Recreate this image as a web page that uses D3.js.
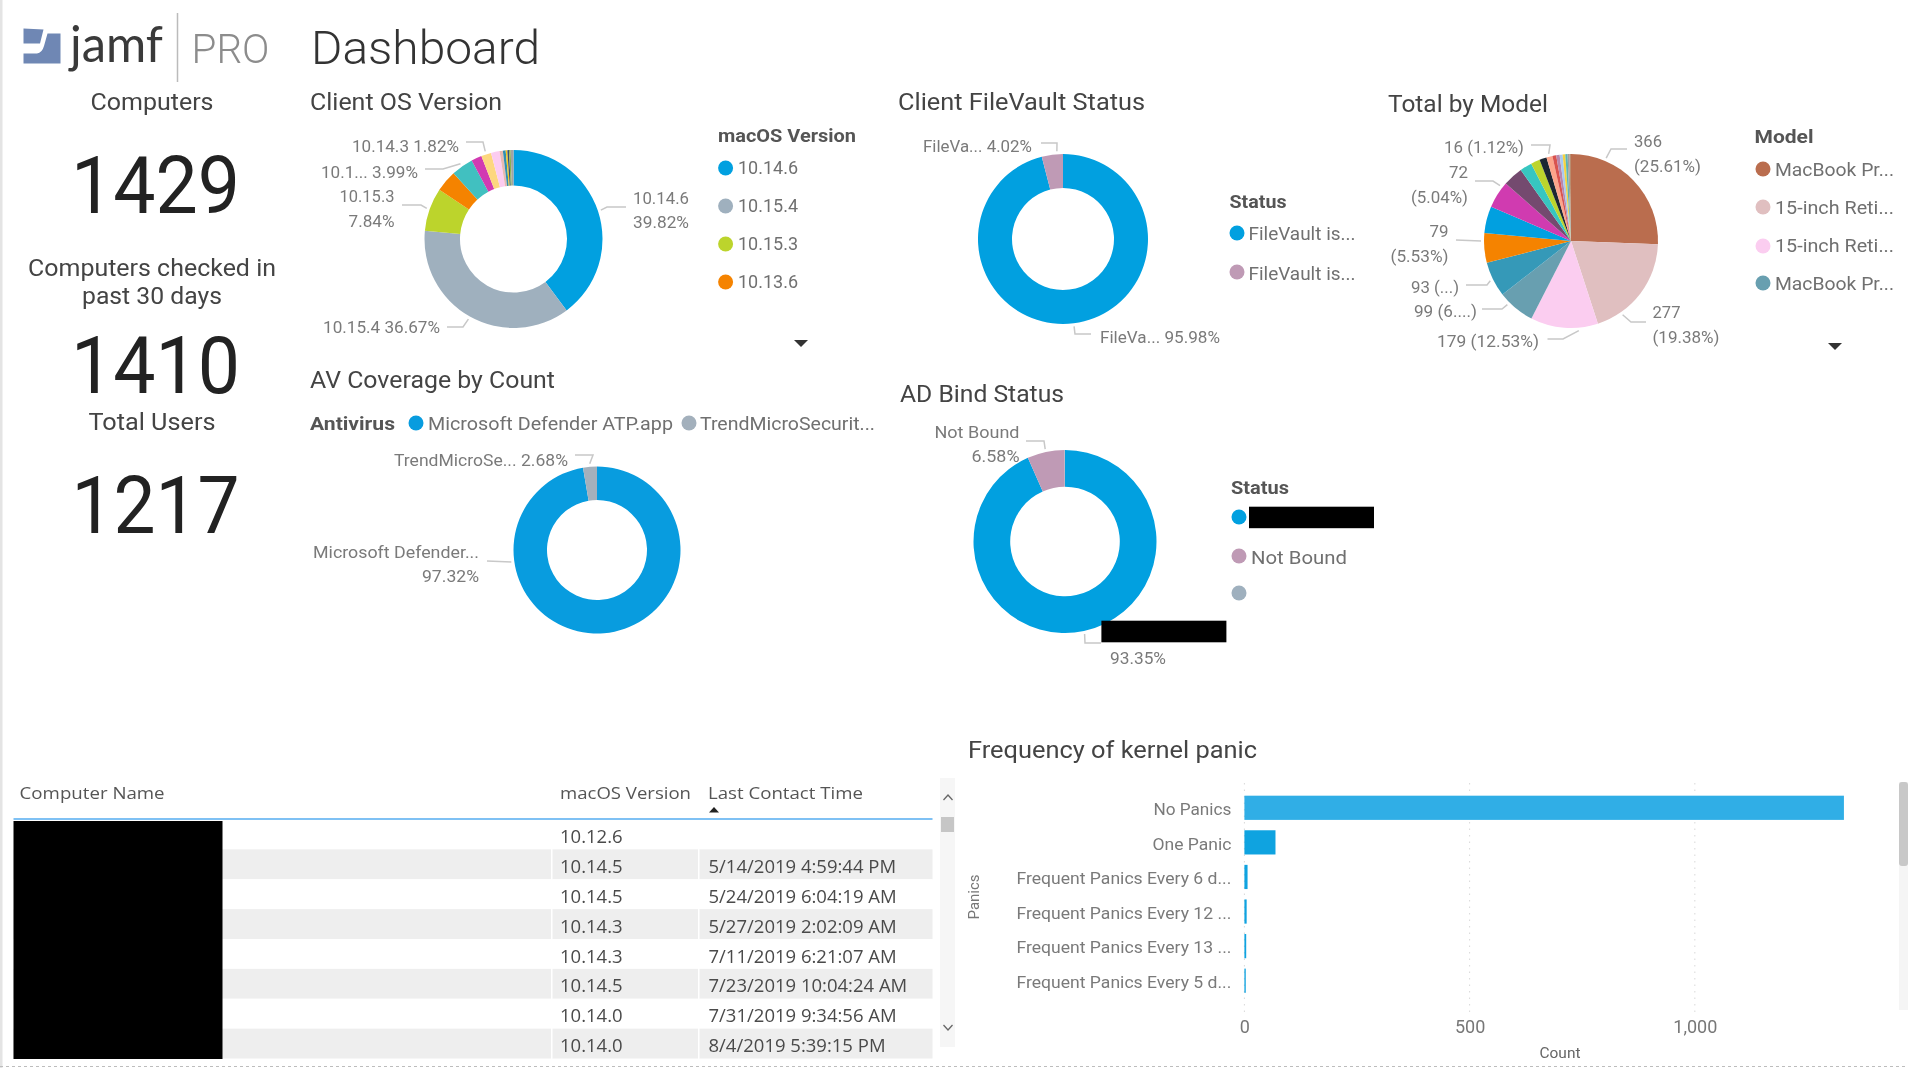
<!DOCTYPE html>
<html><head><meta charset="utf-8">
<script src="https://cdn.jsdelivr.net/npm/d3@7/dist/d3.min.js"></script>
<style>html,body{margin:0;padding:0;background:#fff;overflow:hidden}svg{display:block;filter:blur(0.45px)}</style>
</head><body><svg id="c" width="1908" height="1068"></svg>
<script>
// ---------- data ----------
const kpiValues = ["1429", "1410", "1217"];
const osVersions = ["10.14.6","10.15.4","10.15.3","10.13.6","10.14.4","10.14.5","10.14.3","10.13.5","10.12.6","10.14.0","10.13.4","10.13.3","10.14.2","10.14.1"];
const osShares = [39.82,36.67,7.84,3.9,3.99,1.9,1.82,1.55,0.6,0.5,0.3,0.3,0.3,0.51];
const osColors = ["#01a0e0","#9fb0be","#bcd42c","#f58300","#41c0c0","#d13ab2","#fdd77f","#fcccf0","#e8b9b0","#2f8fb0","#f5c518","#35507a","#8cb050","#a3a3a3"];
const fvStatus = ["FileVault is...","FileVault is..."];
const fvShares = [95.98,4.02];
const fvColors = ["#01a0e0","#bf9ab5"];
const modelNames = ["MacBook Pr...","15-inch Reti...","15-inch Reti...","MacBook Pr..."];
const modelCounts = [366,277,179,99,93,79,71,72,53,32,24,19,16,10,9,8,7,6,5,4];
const modelColors = ["#ba6d4e","#e0bfc0","#fbcdf0","#689fb0","#3599b8","#f58300","#01a0e0","#d03bb0","#744a6f","#37c6c0","#bcd42c","#1c2733","#fda58b","#d9534f","#b887ad","#a9c9f0","#f5d33f","#5bb5b5","#a0a0a0","#b98c6e"];
const avNames = ["Microsoft Defender ATP.app","TrendMicroSecurit..."];
const avShares = [97.32,2.68];
const avColors = ["#089cdf","#a3b0bc"];
const adNames = ["","Not Bound",""];
const adShares = [93.35,6.58,0.07];
const adColors = ["#01a0e0","#bf9ab5","#9fb0be"];
const panicNames = ["No Panics","One Panic","Frequent Panics Every 6 d...","Frequent Panics Every 12 ...","Frequent Panics Every 13 ...","Frequent Panics Every 5 d..."];
const panicCounts = [1331,69,7,5,4,3];
const panicTicks = [0,500,1000];
const tableHeaders = ["Computer Name","macOS Version","Last Contact Time"];
const tableVersions = ["10.12.6","10.14.5","10.14.5","10.14.3","10.14.3","10.14.5","10.14.0","10.14.0"];
const tableTimes = ["","5/14/2019 4:59:44 PM","5/24/2019 6:04:19 AM","5/27/2019 2:02:09 AM","7/11/2019 6:21:07 AM","7/23/2019 10:04:24 AM","7/31/2019 9:34:56 AM","8/4/2019 5:39:15 PM"];

// ---------- helpers ----------
const svg = d3.select("#c");
const DIN = "Roboto, 'Noto Sans', sans-serif";
const UI = "'Open Sans', 'Noto Sans', sans-serif";
function txt(x, y, s, o = {}) {
  const t = svg.append("text").attr("x", x).attr("y", y).text(s)
    .attr("font-family", o.family || DIN).attr("font-size", o.size || 17)
    .attr("fill", o.fill || "#777").attr("text-anchor", o.anchor || "start")
    .attr("font-weight", o.weight || 400);
  if (o.width) t.attr("textLength", o.width).attr("lengthAdjust", "spacingAndGlyphs");
  return t;
}
function drawPie(p) {
  const g = svg.append("g").attr("transform", `translate(${p.cx},${p.cy})`);
  const arcs = d3.pie().sort(null).value(d => d)(p.values);
  const arc = d3.arc().innerRadius(p.inner).outerRadius(p.r);
  g.selectAll("path").data(arcs).join("path").attr("d", arc)
    .attr("fill", (d, i) => p.colors[i]).attr("stroke", "none");
  const ringEdge = d3.arc().innerRadius(p.r + 3).outerRadius(p.r + 3);
  (p.labels || []).forEach(l => {
    const c = l.at === undefined ? ringEdge.centroid(arcs[l.slice])
      : [(p.r + 3) * Math.sin(l.at * Math.PI / 180), -(p.r + 3) * Math.cos(l.at * Math.PI / 180)];
    const pts = [[p.cx + c[0], p.cy + c[1]], ...l.path];
    svg.append("path").attr("d", d3.line()(pts)).attr("fill", "none")
      .attr("stroke", "#c8c8c8").attr("stroke-width", 1.5);
    l.lines.forEach(t => txt(t[0], t[1], t[2], {size: 17, anchor: t[4] || "start", width: t[3], fill: "#7a7a7a"}));
  });
}
function legendDots(x, ys, colors, r = 7.5) {
  svg.append("g").selectAll("circle").data(ys).join("circle")
    .attr("cx", x).attr("cy", d => d).attr("r", r).attr("fill", (d, i) => colors[i]);
}
function dropArrow(x, y) {
  svg.append("path").attr("d", `M${x-7},${y}h14l-7,7z`).attr("fill", "#333");
}

// ---------- frame ----------
svg.append("rect").attr("x", 0).attr("y", 0).attr("width", 2.5).attr("height", 1068).attr("fill", "#e4e4e4");
svg.append("line").attr("x1", 0).attr("x2", 1908).attr("y1", 1066.5).attr("y2", 1066.5)
  .attr("stroke", "#bdbdbd").attr("stroke-dasharray", "3,3");

// ---------- logo + heading ----------
svg.append("path").attr("d", "M47.5,33.5H60.5V63.5H23.5V53.5H37Q42,53 44,46z").attr("fill", "#6f87b4");
svg.append("path").attr("d", "M23.5,28.5L43.5,29.5L40,43.5H23.5z").attr("fill", "#6f87b4");
txt(70, 62, "jamf", {size: 50, fill: "#3a3a3a", width: 93, family: "Lato, sans-serif"});
svg.append("line").attr("x1", 177.5).attr("x2", 177.5).attr("y1", 13).attr("y2", 82).attr("stroke", "#bbb").attr("stroke-width", 1.5);
txt(191.5, 63, "PRO", {size: 40, fill: "#8c8c8c", width: 78, weight: 300});
txt(311, 64, "Dashboard", {size: 47, fill: "#333", width: 229, weight: 300});

// ---------- KPIs ----------
txt(152, 110, "Computers", {size: 23, fill: "#444", anchor: "middle", width: 123});
txt(155.5, 213, kpiValues[0], {size: 80, fill: "#222", anchor: "middle", width: 169});
txt(152, 276, "Computers checked in", {size: 23, fill: "#444", anchor: "middle", width: 248});
txt(152, 304, "past 30 days", {size: 23, fill: "#444", anchor: "middle", width: 140});
txt(155.5, 393, kpiValues[1], {size: 80, fill: "#222", anchor: "middle", width: 169});
txt(152, 430, "Total Users", {size: 23, fill: "#444", anchor: "middle", width: 127});
txt(155.5, 533, kpiValues[2], {size: 80, fill: "#222", anchor: "middle", width: 168});

// ---------- titles ----------
txt(310, 110, "Client OS Version", {size: 23, fill: "#444", width: 192});
txt(898, 110, "Client FileVault Status", {size: 23, fill: "#444", width: 247});
txt(1388, 112, "Total by Model", {size: 23, fill: "#444", width: 160});
txt(310, 388, "AV Coverage by Count", {size: 23, fill: "#444", width: 245});
txt(900, 402, "AD Bind Status", {size: 23, fill: "#444", width: 164});
txt(968, 758, "Frequency of kernel panic", {size: 23, fill: "#444", width: 289});

// ---------- OS donut ----------
drawPie({cx: 513.5, cy: 239, r: 89, inner: 53.5, values: osShares, colors: osColors, labels: [
  {slice: 0, path: [[607,207],[626,207]], lines: [[689,204,"10.14.6",56,"end"],[689,228,"39.82%",56,"end"]]},
  {slice: 1, path: [[463,327],[447,327]], lines: [[323,333,"10.15.4 36.67%",117]]},
  {slice: 2, path: [[421,205],[402,205]], lines: [[394.5,202,"10.15.3",55,"end"],[394.5,227,"7.84%",46,"end"]]},
  {slice: 4, path: [[443,169],[425,169]], lines: [[321,178,"10.1... 3.99%",97]]},
  {slice: 6, path: [[483,142],[466,142]], lines: [[352,152,"10.14.3 1.82%",107]]}
]});
txt(718, 142, "macOS Version", {size: 18, fill: "#555", weight: 700, width: 138});
legendDots(725.6, [168,206,244,282], osColors);
osVersions.slice(0, 4).forEach((v, i) => txt(738, [174,212,250,288][i], v, {size: 18, fill: "#707070", width: 60}));
dropArrow(801, 340);

// ---------- FileVault donut ----------
drawPie({cx: 1063, cy: 239, r: 85, inner: 51, values: fvShares, colors: fvColors, labels: [
  {slice: 1, at: 356, path: [[1057,143],[1041,143]], lines: [[923,152,"FileVa... 4.02%",109]]},
  {slice: 0, path: [[1075,334],[1091,334]], lines: [[1100,343,"FileVa... 95.98%",120]]}
]});
txt(1229.5, 208, "Status", {size: 18, fill: "#555", weight: 700, width: 57});
legendDots(1237, [233,272], fvColors);
fvStatus.forEach((v, i) => txt(1248.5, [240,280][i], v, {size: 18, fill: "#707070", width: 107}));

// ---------- Model pie ----------
drawPie({cx: 1571, cy: 241, r: 87, inner: 0, values: modelCounts, colors: modelColors, labels: [
  {slice: 0, at: 23, path: [[1611,149],[1627,149]], lines: [[1634,147,"366",28],[1634,172,"(25.61%)",67]]},
  {slice: 1, at: 145, path: [[1631,322],[1646,322]], lines: [[1652.5,318,"277",28],[1652.5,343,"(19.38%)",67]]},
  {slice: 2, at: 175, path: [[1563,339],[1547.5,339]], lines: [[1437,347,"179 (12.53%)",102]]},
  {slice: 3, at: 225, path: [[1502,309],[1482,309]], lines: [[1414,317,"99 (6....)",63]]},
  {slice: 4, path: [[1487,285],[1466,285]], lines: [[1411,293,"93 (...)",48]]},
  {slice: 5, at: 270, path: [[1456,240]], lines: [[1448.5,237,"79",19,"end"],[1448.5,262,"(5.53%)",58,"end"]]},
  {slice: 7, at: 308, path: [[1493,181],[1475,181]], lines: [[1468,178,"72",19,"end"],[1468,203,"(5.04%)",57,"end"]]},
  {slice: 12, path: [[1550,145],[1531,145]], lines: [[1444,153,"16 (1.12%)",80]]}
]});
txt(1754.5, 143, "Model", {size: 18, fill: "#555", weight: 700, width: 59});
legendDots(1763, [169,207,246,283], modelColors);
modelNames.forEach((v, i) => txt(1775, [176,214,252,290][i], v, {size: 18, fill: "#707070", width: 119}));
dropArrow(1835, 343);

// ---------- AV donut ----------
txt(310, 430, "Antivirus", {size: 18, fill: "#555", weight: 700, width: 85});
legendDots(416, [423], [avColors[0]]); legendDots(689, [423], [avColors[1]]);
txt(428, 430, avNames[0], {size: 18, fill: "#707070", width: 245});
txt(700, 430, avNames[1], {size: 18, fill: "#707070", width: 175});
drawPie({cx: 597, cy: 550, r: 83.5, inner: 50, values: avShares, colors: avColors, labels: [
  {slice: 1, path: [[593,455],[575,455]], lines: [[394,466,"TrendMicroSe... 2.68%",174]]},
  {slice: 0, at: 262, path: [[487,561]], lines: [[479,558,"Microsoft Defender...",166,"end"],[479,582,"97.32%",57,"end"]]}
]});

// ---------- AD donut ----------
drawPie({cx: 1065, cy: 541.5, r: 91.5, inner: 54.8, values: adShares, colors: adColors, labels: [
  {slice: 1, path: [[1044,441],[1026,441]], lines: [[1019.5,438,"Not Bound",85,"end"],[1019.5,462,"6.58%",48,"end"]]},
  {slice: 0, path: [[1085,643],[1101,643]], lines: [[1110,664,"93.35%",56]]}
]});
svg.append("rect").attr("x", 1101.4).attr("y", 620.7).attr("width", 125).attr("height", 21.6).attr("fill", "#000");
txt(1231, 494, "Status", {size: 18, fill: "#555", weight: 700, width: 58});
legendDots(1239, [517,556,593], adColors);
svg.append("rect").attr("x", 1249).attr("y", 506.7).attr("width", 125).attr("height", 21.5).attr("fill", "#000");
txt(1251, 564, adNames[1], {size: 18, fill: "#707070", width: 96});

// ---------- table ----------
const rowY = d3.scaleBand().domain(d3.range(tableVersions.length)).range([819.5, 1058.5]);
const table = svg.append("g");
table.selectAll("rect.row").data(tableVersions).join("rect").attr("class", "row")
  .attr("x", 13.5).attr("width", 919).attr("y", (d, i) => rowY(i)).attr("height", rowY.bandwidth())
  .attr("fill", (d, i) => i % 2 ? "#eeeeee" : "#ffffff");
[551, 698].forEach(x => table.append("rect").attr("x", x).attr("y", 819).attr("width", 1.5).attr("height", 240).attr("fill", "#fff"));
table.append("rect").attr("x", 13.5).attr("y", 818).attr("width", 919).attr("height", 2).attr("fill", "#7fc1f4");
table.append("rect").attr("x", 13.5).attr("y", 821).attr("width", 209).attr("height", 238).attr("fill", "#000");
[[19.6,145],[560,131],[708,155]].forEach((h, i) => txt(h[0], 799, tableHeaders[i], {family: UI, size: 17, fill: "#555", width: h[1]}));
svg.append("path").attr("d", "M714,807l5,5.5h-10z").attr("fill", "#222");
tableVersions.forEach((v, i) => txt(560, rowY(i) + 23.5, v, {family: UI, size: 18.5, fill: "#4a4a4a"}));
tableTimes.forEach((v, i) => { if (v) txt(708.5, rowY(i) + 23.5, v, {family: UI, size: 18.5, fill: "#4a4a4a"}); });
// scrollbar
svg.append("rect").attr("x", 940).attr("y", 778).attr("width", 15).attr("height", 269).attr("fill", "#f6f6f6");
svg.append("rect").attr("x", 941).attr("y", 817).attr("width", 13).attr("height", 15).attr("fill", "#c6c6c6");
svg.append("path").attr("d", "M943.5,800l4.5,-5l4.5,5").attr("fill", "none").attr("stroke", "#666").attr("stroke-width", 1.3);
svg.append("path").attr("d", "M943.5,1025l4.5,5l4.5,-5").attr("fill", "none").attr("stroke", "#666").attr("stroke-width", 1.3);

// ---------- bar chart ----------
const barX = d3.scaleLinear().domain([0, 1400]).range([1244.4, 1875]);
const barY = d3.scaleBand().domain(panicNames).range([790.5, 998]).paddingInner(0.3).paddingOuter(0.15);
const grid = svg.append("g");
grid.selectAll("line").data(panicTicks).join("line")
  .attr("x1", d => barX(d)).attr("x2", d => barX(d)).attr("y1", 783).attr("y2", 1013)
  .attr("stroke", "#d8d8d8").attr("stroke-dasharray", "1.5,5");
svg.append("g").selectAll("rect").data(panicNames).join("rect")
  .attr("x", barX(0)).attr("y", d => barY(d)).attr("height", barY.bandwidth())
  .attr("width", (d, i) => barX(panicCounts[i]) - barX(0))
  .attr("fill", (d, i) => i === 0 ? "#30aee6" : "#0fa3e0");
const yAxis = svg.append("g").attr("transform", "translate(1244.4,0)")
  .call(d3.axisLeft(barY).tickSize(0).tickPadding(13));
yAxis.select(".domain").remove();
yAxis.selectAll("text").attr("font-family", DIN).attr("font-size", 17).attr("fill", "#7a7a7a").attr("dy", "0.42em")
  .attr("textLength", d => ({"No Panics":78,"One Panic":79})[d] || 215).attr("lengthAdjust", "spacingAndGlyphs");
const xAxis = svg.append("g").attr("transform", "translate(0,1012)")
  .call(d3.axisBottom(barX).tickValues(panicTicks).tickFormat(d3.format(",")).tickSize(0).tickPadding(8));
xAxis.select(".domain").remove();
xAxis.selectAll("text").attr("font-family", DIN).attr("font-size", 18).attr("fill", "#777").attr("dy", "0.7em");
txt(1560, 1058, "Count", {size: 14, fill: "#666", anchor: "middle", width: 41});
svg.append("text").text("Panics").attr("transform", "translate(979,897) rotate(-90)").attr("text-anchor", "middle")
  .attr("font-family", DIN).attr("font-size", 14).attr("fill", "#777").attr("textLength", 45).attr("lengthAdjust", "spacingAndGlyphs");
svg.append("rect").attr("x", 1899).attr("y", 782).attr("width", 9).attr("height", 228).attr("fill", "#f5f5f5");
svg.append("rect").attr("x", 1899).attr("y", 782).attr("width", 9).attr("height", 84).attr("rx", 3).attr("fill", "#c8c8c8");
</script></body></html>
